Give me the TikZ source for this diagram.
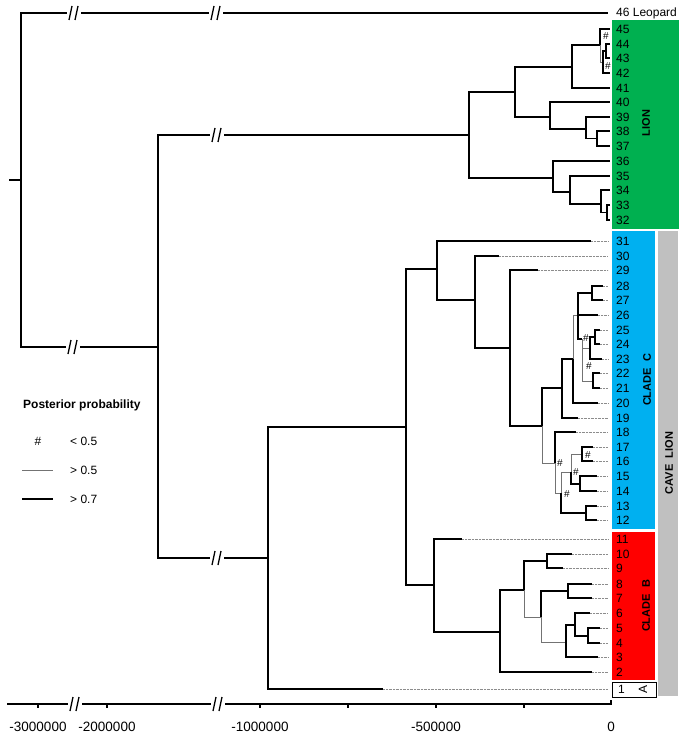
\documentclass[tikz,border=0pt]{standalone}
\usepackage{fontspec}
\setmainfont{Liberation Sans}
\usepackage{tikz}
\usetikzlibrary{positioning}
\definecolor{lioncol}{RGB}{0,176,80}
\definecolor{cladeccol}{RGB}{0,176,240}
\definecolor{cladebcol}{RGB}{255,0,0}
\definecolor{cavecol}{RGB}{192,192,192}
\tikzstyle{branch} = [draw, line width=1.8pt]
\tikzstyle{weak} = [draw, line width=0.8pt, black!55]
\tikzstyle{dots} = [draw, line width=0.7pt, black!45, dash pattern=on 0.7pt off 0.7pt]
\tikzstyle{leaf} = [anchor=west, inner sep=0pt, font=\fontsize{12}{13}\selectfont]
\tikzstyle{clade} = [rotate=90, inner sep=0pt, font=\bfseries\fontsize{11}{12}\selectfont]
\tikzstyle{hash} = [inner sep=0pt, font=\fontsize{10}{11}\selectfont]
\tikzstyle{tick} = [anchor=center, inner sep=0pt, font=\fontsize{13.5}{14}\selectfont]
\tikzstyle{legend} = [anchor=west, inner sep=0pt, font=\fontsize{12}{13}\selectfont]
\tikzset{brk/.pic={
    \fill[white] (-7,-4) rectangle (7,4);
    \draw[line width=1.3pt] (-5,7) -- (-2,-7) (1,7) -- (4,-7);
}}

\begin{document}
\begin{tikzpicture}[x=1pt, y=-1pt]
    \useasboundingbox (0,0) rectangle (685,743);
    % clade boxes
    \fill[lioncol] (612,20) rectangle (679,229);
    \fill[cladeccol] (612,231) rectangle (655,529);
    \fill[cladebcol] (612,532) rectangle (655,680);
    \fill[cavecol] (658,231) rectangle (678,696);
    \draw[line width=0.8pt, fill=white] (612,682) rectangle (656,697);
    \node[clade] (lion) at (646,123) {LION};
    \node[clade] (cladec) at (647,380) {CLADE\ \ C};
    \node[clade] (cladeb) at (646,606) {CLADE\ \ B};
    \node[clade] (cave) at (669,463) {CAVE\ \ LION};
    \node[clade, font=\fontsize{12}{13}\selectfont] (cladea) at (643,689) {A};

    % Place nodes
    \coordinate (root0) at (9,180);
    \coordinate (root) at (21,180);
    \coordinate (n1) at (158,347);
    \coordinate (n2) at (268,558);
    \coordinate (n3) at (406,427);
    \coordinate (n4) at (437,269);
    \coordinate (n5) at (475,300);
    \coordinate (n6) at (510,348);
    \coordinate (n7) at (542,426);
    \coordinate (n8) at (562,388);
    \coordinate (nA) at (573,359);
    \coordinate (nB2) at (578,315);
    \coordinate (nF) at (592,293);
    \coordinate (nC) at (582,339);
    \coordinate (nD) at (590,348);
    \coordinate (nG) at (595,337);
    \coordinate (nE) at (593,381);
    \coordinate (nH) at (555,463);
    \coordinate (nI) at (561,493);
    \coordinate (nJ) at (571,472);
    \coordinate (nLL) at (582,454);
    \coordinate (nM) at (580,484);
    \coordinate (nK) at (586,513);
    \coordinate (nB) at (434,585);
    \coordinate (nP) at (500,632);
    \coordinate (nQ) at (524,590);
    \coordinate (nR) at (547,561);
    \coordinate (nS) at (541,617);
    \coordinate (nT) at (568,591);
    \coordinate (nU) at (566,642);
    \coordinate (nV) at (575,625);
    \coordinate (nW) at (588,636);
    \coordinate (nL) at (469,135);
    \coordinate (nX1) at (515,92);
    \coordinate (nX2) at (572,67);
    \coordinate (nX3) at (600,45);
    \coordinate (nX4) at (603,62);
    \coordinate (nX5) at (606,51);
    \coordinate (nX6) at (550,117);
    \coordinate (nX7) at (586,129);
    \coordinate (nX8) at (597,138.5);
    \coordinate (nX9) at (553,178);
    \coordinate (nX10) at (570,192);
    \coordinate (nX11) at (601,204);
    \coordinate (nX12) at (607,212.5);
    \coordinate (e46) at (608,13);
    \node[leaf] (l46) at (616,13) {46 Leopard};

    % Draw edges
    \draw[branch] (root0) -- (root);
    \draw[branch] (root) |- (e46);
    \draw[branch] (root) |- (n1);
    \draw[branch] (n1) |- (nL);
    \draw[branch] (n1) |- (n2);
    \draw[branch] (n2) |- (n3);
    \draw[branch] (n3) |- (n4);
    \draw[branch] (n3) |- (nB);
    \draw[branch] (n4) |- (n5);
    \draw[branch] (n5) |- (n6);
    \draw[branch] (n6) |- (n7);
    \draw[branch] (n7) |- (n8);
    \draw[weak] (n7) |- (nH);
    \draw[branch] (n8) |- (nA);
    \draw[weak] (nA) |- (nB2);
    \draw[branch] (nB2) |- (nF);
    \draw[branch] (nB2) |- (nC);
    \draw[weak] (nC) |- (nD);
    \draw[weak] (nC) |- (nE);
    \draw[branch] (nD) |- (nG);
    \draw[weak] (nH) |- (nI);
    \draw[weak] (nI) |- (nJ);
    \draw[branch] (nI) |- (nK);
    \draw[weak] (nJ) |- (nLL);
    \draw[branch] (nJ) |- (nM);
    \draw[branch] (nB) |- (nP);
    \draw[branch] (nP) |- (nQ);
    \draw[branch] (nQ) |- (nR);
    \draw[weak] (nQ) |- (nS);
    \draw[branch] (nS) |- (nT);
    \draw[weak] (nS) |- (nU);
    \draw[branch] (nU) |- (nV);
    \draw[branch] (nV) |- (nW);
    \draw[branch] (nL) |- (nX1);
    \draw[branch] (nL) |- (nX9);
    \draw[branch] (nX1) |- (nX2);
    \draw[branch] (nX1) |- (nX6);
    \draw[branch] (nX2) |- (nX3);
    \draw[weak] (nX3) |- (nX4);
    \draw[branch] (nX4) |- (nX5);
    \draw[branch] (nX6) |- (nX7);
    \draw[branch] (nX7) |- (nX8);
    \draw[branch] (nX9) |- (nX10);
    \draw[branch] (nX10) |- (nX11);
    \draw[branch] (nX11) |- (nX12);

    % cave lion leaves
    \foreach \n/\y/\e/\p in {1/689/383/n2, 2/672/592/nP, 3/657/598/nU, 4/643/600/nW,
        5/628/600/nW, 6/613/590/nV, 7/598/592/nT, 8/584/592/nT, 9/568/563/nR,
        10/554/572/nR, 11/539/462/nB, 12/520/597/nK, 13/506/597/nK, 14/491/597/nM,
        15/476/597/nM, 16/461/593/nLL, 17/447/593/nLL, 18/432/576/nH, 19/418/578/n8,
        20/403/598/nA, 21/388/600/nE, 22/373/600/nE, 23/359/602/nD, 24/344/600/nG,
        25/330/600/nG, 26/315/598/nB2, 27/300/603/nF, 28/286/603/nF, 29/270/538/n6,
        30/256/499/n5, 31/241/591/n4}{
        \coordinate (e\n) at (\e,\y);
        \coordinate (t\n) at (608,\y);
        \draw[branch] (\p) |- (e\n);
        \draw[dots] (e\n) -- (t\n);
    }
    \foreach \n/\y in {2/672, 3/657, 4/643, 5/628, 6/613, 7/598, 8/584, 9/568,
        10/554, 11/539, 12/520, 13/506, 14/491, 15/476, 16/461, 17/447, 18/432,
        19/418, 20/403, 21/388, 22/373, 23/359, 24/344, 25/330, 26/315, 27/300,
        28/286, 29/270, 30/256, 31/241}
        \node[leaf] (l\n) at (616,\y) {\n};
    \node[leaf] (l1) at (618,689) {1};

    % lion leaves
    \foreach \n/\y/\p in {32/220/nX12, 33/205/nX12, 34/190/nX11, 35/176/nX10,
        36/161/nX9, 37/146/nX8, 38/131/nX8, 39/117/nX7, 40/102/nX6, 41/88/nX2,
        42/73/nX4, 43/58/nX5, 44/44/nX5, 45/29/nX3}{
        \coordinate (e\n) at (610,\y);
        \draw[branch] (\p) |- (e\n);
        \node[leaf] (l\n) at (616,\y) {\n};
    }

    % weak support
    \foreach \x/\y [count=\i] in {606/36, 608/66, 586/338, 589/366, 560/463,
        588/455, 576/472, 567/494}
        \node[hash] (h\i) at (\x,\y) {\#};

    % breaks
    \pic at (74,13) {brk};
    \pic at (216,13) {brk};
    \pic at (73,347) {brk};
    \pic at (217,135) {brk};
    \pic at (217,558) {brk};

    % time axis
    \draw[line width=1.4pt] (7,704) -- (611,704) -- (611,700);
    \foreach \x in {38,107,260,348,436,524}
        \draw[line width=1.2pt] (\x,704) -- (\x,708);
    \pic at (75,704) {brk};
    \pic at (218,704) {brk};
    \foreach \x/\t [count=\i] in {38/-3000000, 107/-2000000, 260/-1000000,
        436/-500000, 611/0}
        \node[tick] (ax\i) at (\x,727) {\t};

    % legend
    \node[legend, font=\bfseries\fontsize{12}{13}\selectfont] (lgd) at (23,405) {Posterior probability};
    \node[hash, font=\fontsize{12}{13}\selectfont] (lgh) at (38,441) {\#};
    \node[legend] (lg1) at (70,441) {< 0.5};
    \node[legend] (lg2) at (70,470) {> 0.5};
    \node[legend] (lg3) at (70,499) {> 0.7};
    \draw[weak] (22,470) -- (53,470);
    \draw[branch] (22,499) -- (53,499);
\end{tikzpicture}
\end{document}
